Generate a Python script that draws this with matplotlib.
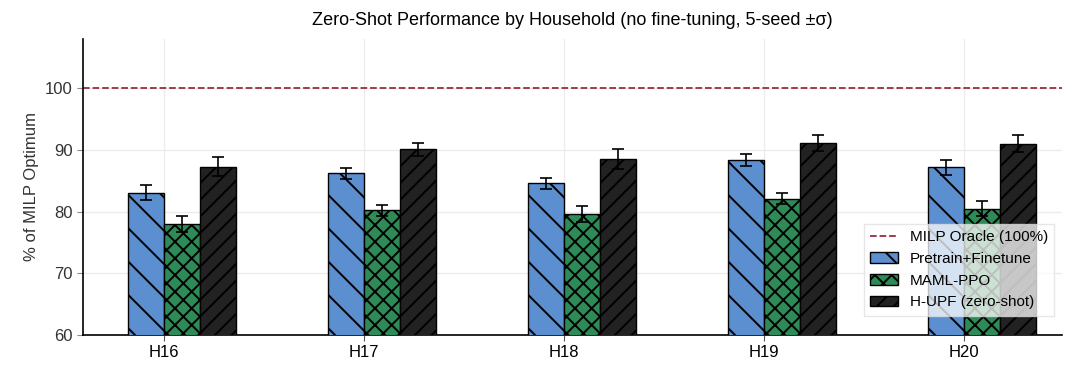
import numpy as np
import matplotlib
matplotlib.use("Agg")
import matplotlib.pyplot as plt

plt.rcParams['font.family'] = ['Liberation Sans', 'DejaVu Sans']
plt.rcParams['hatch.linewidth'] = 1.4

households = ["H16", "H17", "H18", "H19", "H20"]
pretrain = [83.1, 86.2, 84.6, 88.4, 87.2]
pretrain_sd = [1.2, 0.85, 0.9, 1.0, 1.2]
maml = [78.0, 80.2, 79.6, 82.1, 80.5]
maml_sd = [1.3, 0.95, 1.3, 0.9, 1.2]
hupf = [87.3, 90.1, 88.5, 91.2, 91.0]
hupf_sd = [1.5, 1.1, 1.6, 1.3, 1.4]
oracle = 100

x = np.arange(len(households))
w = 0.18

fig = plt.figure(figsize=(10.73, 3.7), dpi=100)
ax = fig.add_axes([0.0774, 0.0946, 0.9123, 0.80])

err_kw = dict(ecolor="black", capsize=4, elinewidth=1.2, capthick=1.2)
ax.bar(x - w / 2, pretrain, w, yerr=pretrain_sd, color="#5b8fcf", edgecolor="black",
       linewidth=1.0, hatch="\\", label="Pretrain+Finetune", error_kw=err_kw, zorder=3)
ax.bar(x + w / 2, maml, w, yerr=maml_sd, color="#2e8b57", edgecolor="black",
       linewidth=1.0, hatch="xx", label="MAML-PPO", error_kw=err_kw, zorder=3)
ax.bar(x + 3 * w / 2, hupf, w, yerr=hupf_sd, color="#222222", edgecolor="black",
       linewidth=1.0, hatch="//", label="H-UPF (zero-shot)", error_kw=err_kw, zorder=3)
ax.axhline(oracle, color="#9b2c3f", linestyle="--", linewidth=1.3,
           label="MILP Oracle (100%)", zorder=2)

ax.set_xlim(-0.405, 4.49)
ax.set_ylim(60, 108)
ax.set_yticks([60, 70, 80, 90, 100])
ax.set_xticks(x)
ax.set_xticklabels(households, fontsize=12)
ax.tick_params(axis="y", labelsize=12, colors="#333333", length=4, color="#888888")
ax.tick_params(axis="x", length=4, color="#555555", labelcolor="black")
ax.set_ylabel("% of MILP Optimum", fontsize=12, color="#333333")
ax.set_title("Zero-Shot Performance by Household (no fine-tuning, 5-seed ±σ)",
             fontsize=13, pad=10)

ax.grid(True, color="#ececec", linewidth=1.0, zorder=0)
ax.set_axisbelow(True)
for s in ["top", "right"]:
    ax.spines[s].set_visible(False)
for s in ["left", "bottom"]:
    ax.spines[s].set_color("black")
    ax.spines[s].set_linewidth(1.2)

ax.legend(loc="lower right", fontsize=11, framealpha=0.75, edgecolor="#e0e0e0",
          fancybox=False, handlelength=1.8, bbox_to_anchor=(1.0, 0.04))

fig.savefig("out.png", dpi=100)
